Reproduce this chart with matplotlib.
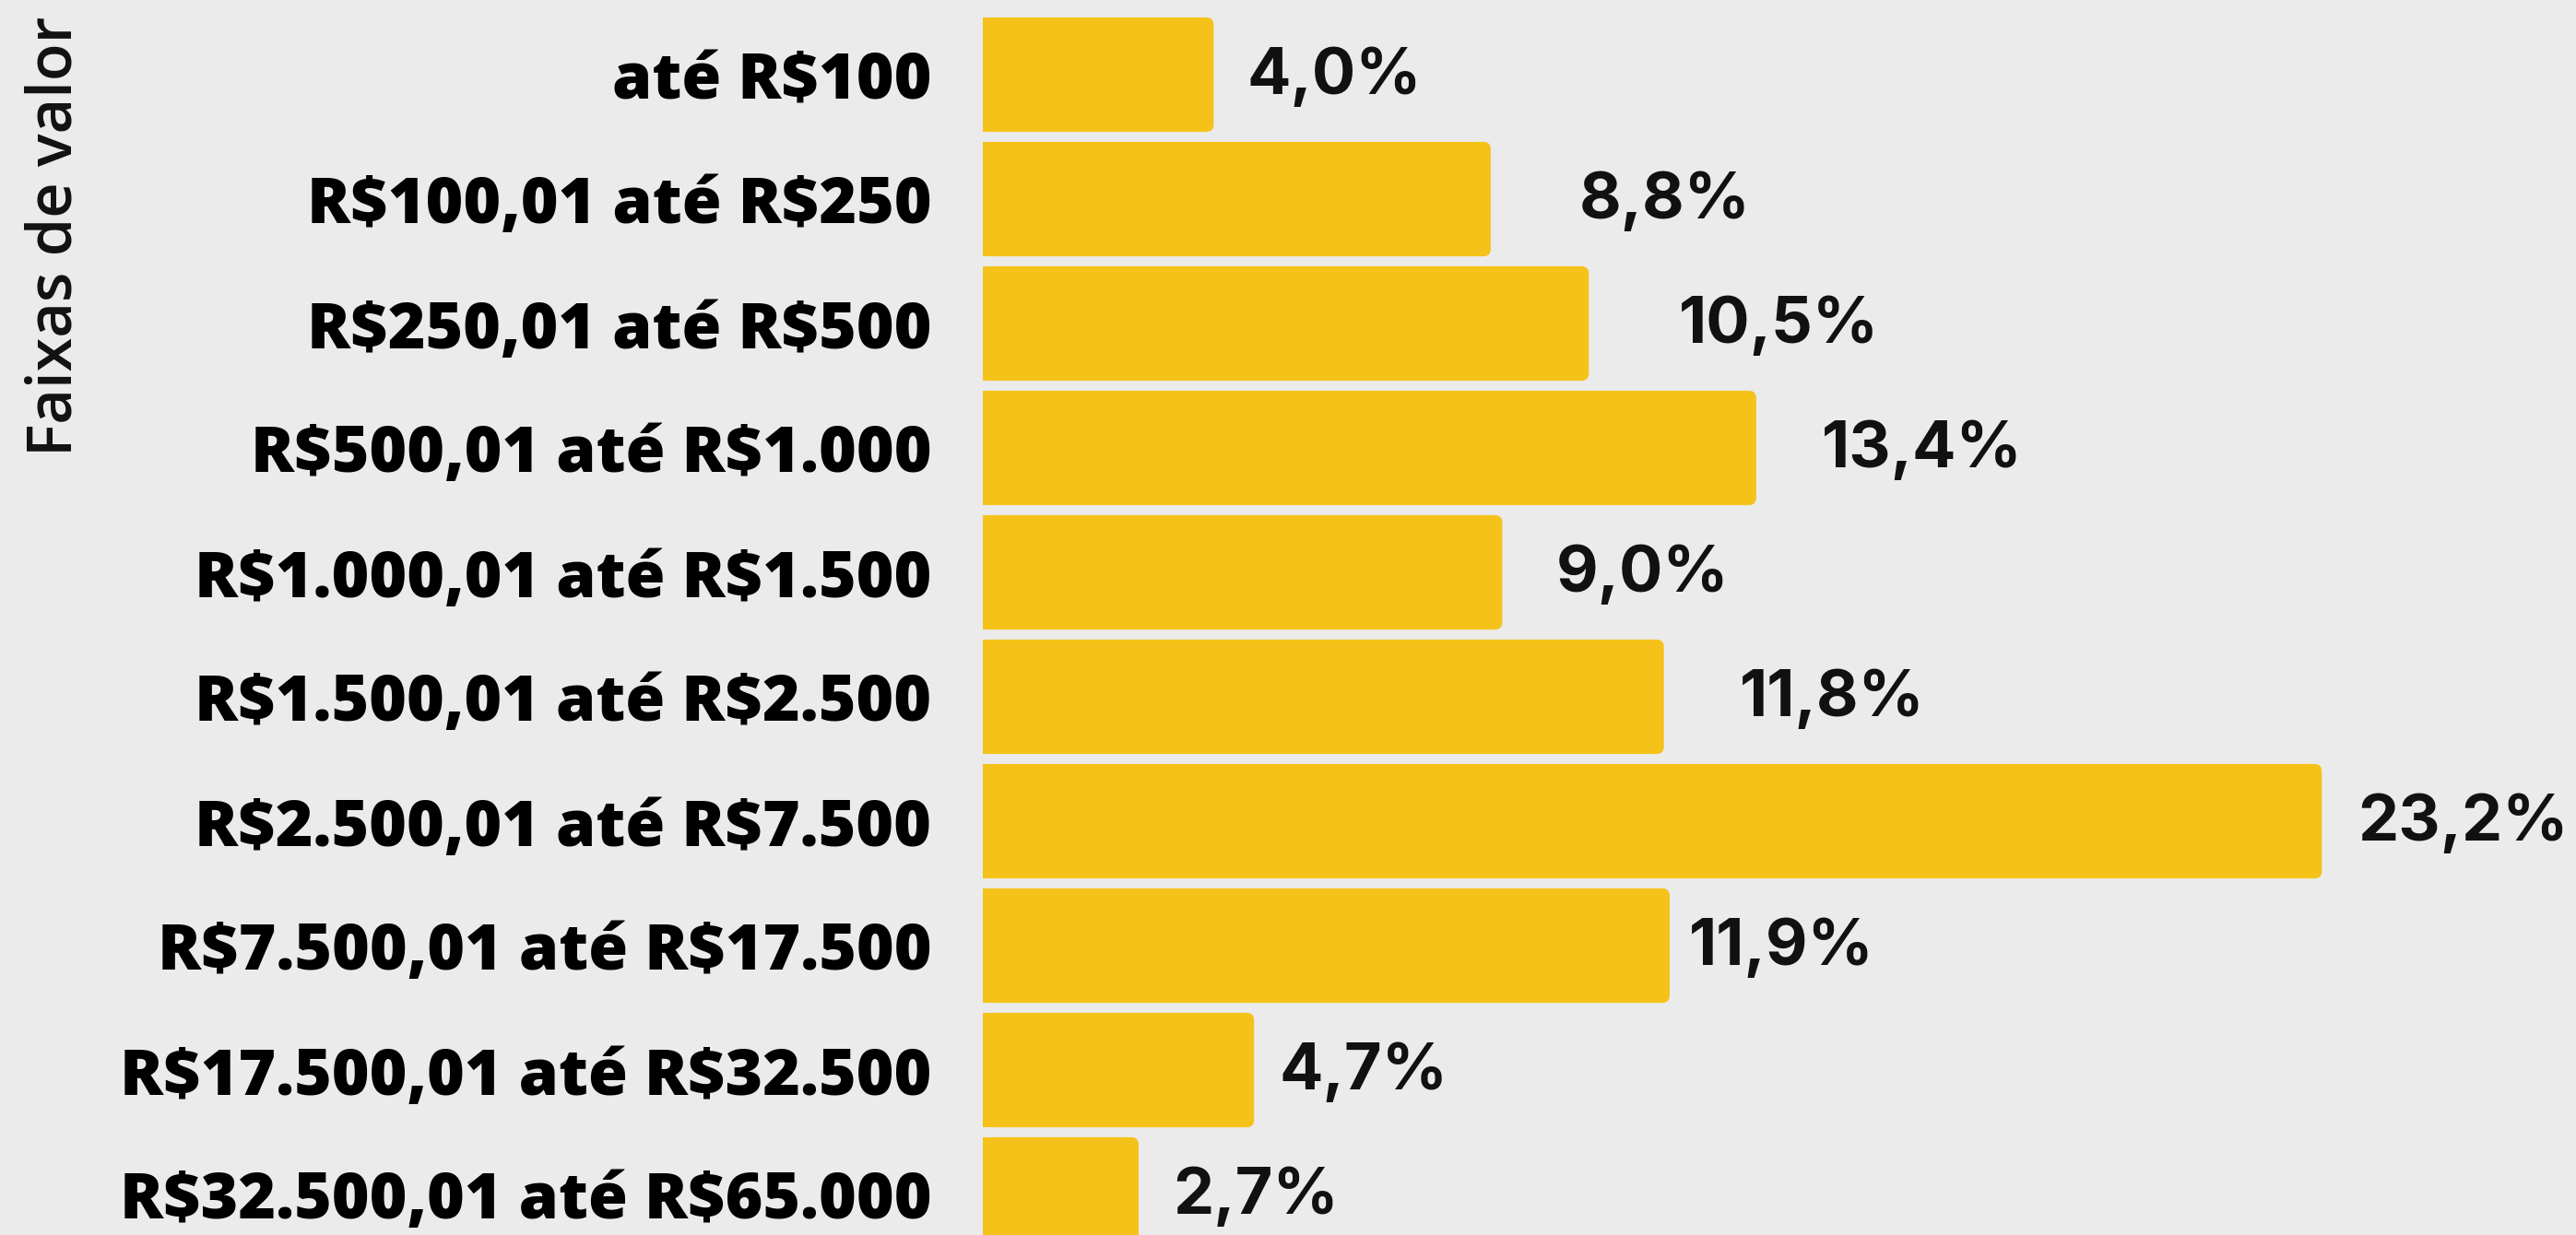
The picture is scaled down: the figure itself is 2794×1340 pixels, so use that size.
import matplotlib.pyplot as plt
from matplotlib.patches import FancyBboxPatch

plt.rcParams["text.parse_math"] = False

faixas = [
    "até R$100",
    "R$100,01 até R$250",
    "R$250,01 até R$500",
    "R$500,01 até R$1.000",
    "R$1.000,01 até R$1.500",
    "R$1.500,01 até R$2.500",
    "R$2.500,01 até R$7.500",
    "R$7.500,01 até R$17.500",
    "R$17.500,01 até R$32.500",
    "R$32.500,01 até R$65.000",
]
percentuais = [4.0, 8.8, 10.5, 13.4, 9.0, 11.8, 23.2, 11.9, 4.7, 2.7]
rotulos = ["4,0%", "8,8%", "10,5%", "13,4%", "9,0%", "11,8%", "23,2%", "11,9%", "4,7%", "2,7%"]

# label gaps after each bar end, in data units (layout only)
gaps = [0.58, 1.53, 1.56, 1.13, 0.94, 1.31, 0.62, 0.34, 0.43, 0.59]

BG = "#EBEBEB"
BAR = "#F5C21A"
W, H, DPI = 2794, 1340, 100

fig = plt.figure(figsize=(W / DPI, H / DPI), dpi=DPI, facecolor=BG)
ax_left = 1066 / W
ax = fig.add_axes([ax_left, 0, 1 - ax_left, 1], facecolor=BG)

px_per_unit_x = 62.6
px_per_unit_y = 135
ax.set_xlim(0, (W - 1066) / px_per_unit_x)
ax.set_ylim((H - 81) / px_per_unit_y, -81 / px_per_unit_y)

bar_h = 0.92
r = 8 / px_per_unit_x
aspect = px_per_unit_x / px_per_unit_y
for i, v in enumerate(percentuais):
    ax.add_patch(FancyBboxPatch((0, i - bar_h / 2), v, bar_h,
                                boxstyle=f"round,pad=0,rounding_size={r}",
                                mutation_aspect=aspect, facecolor=BAR,
                                edgecolor="none"))
    ax.barh(i, v / 2, height=bar_h, color=BAR, linewidth=0)
    ax.text(v + gaps[i], i + 0.02, rotulos[i], va="center", ha="left",
            fontsize=50.5, fontfamily="Inter", fontweight="bold", color="#111111")

ax.set_yticks(range(len(faixas)))
ax.set_yticklabels(faixas, fontsize=50, fontfamily="Open Sans", fontweight="heavy",
                   color="#000000")
ax.tick_params(axis="y", length=0, pad=40)
ax.set_xticks([])
for s in ax.spines.values():
    s.set_visible(False)

ax.set_ylabel("Faixas de valor", fontsize=48, fontfamily="Open Sans",
              fontweight="semibold", color="#111111")
ax.yaxis.set_label_coords(-0.5625, 0.809)

fig.savefig("out.png", dpi=DPI, facecolor=BG)
